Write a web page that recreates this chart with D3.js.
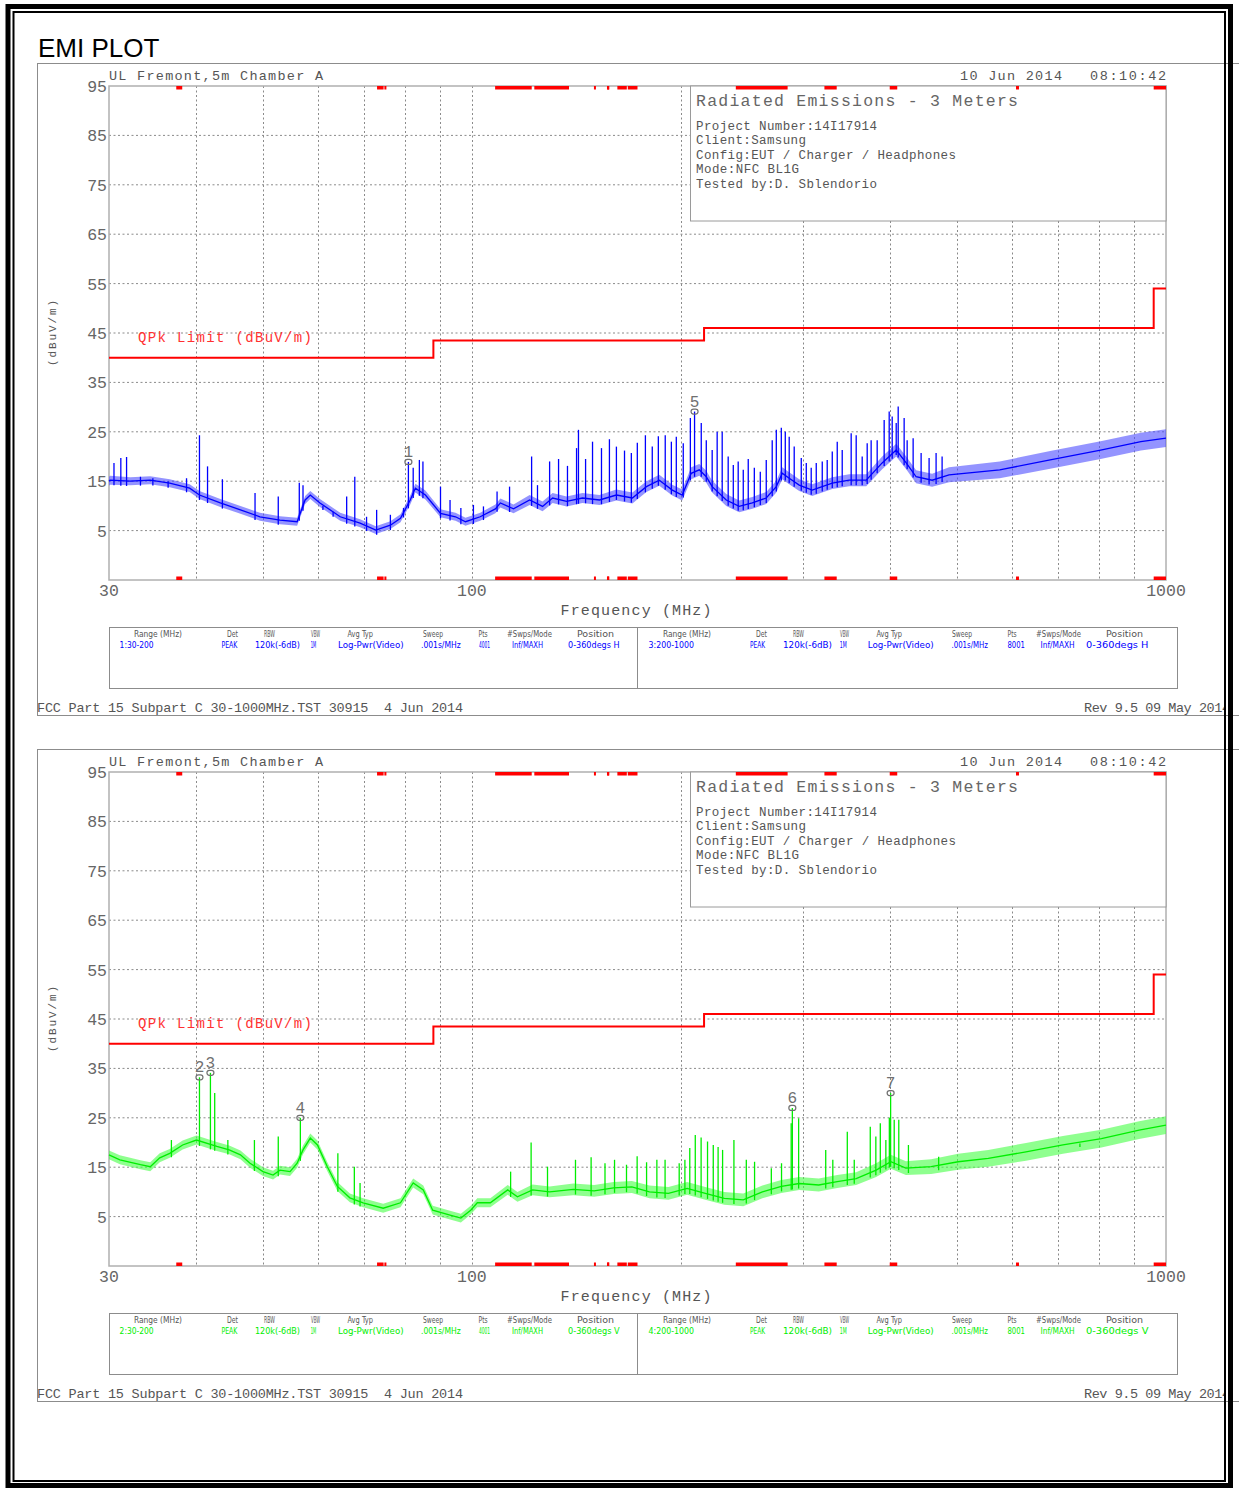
<!DOCTYPE html>
<html><head><meta charset="utf-8">
<script src="https://cdn.jsdelivr.net/npm/d3@7"></script>
<style>body{margin:0;background:#fff}svg{display:block}text{white-space:pre}</style>
</head><body>
<svg id="c" width="1239" height="1488"></svg>
<script>
// ---------------- DATA ----------------
const yTicks = [95, 85, 75, 65, 55, 45, 35, 25, 15, 5];
const xGridFreqs = [40, 50, 60, 70, 80, 90, 100, 200, 300, 400, 500, 600, 700, 800, 900];
const xTickLabels = [30, 100, 1000];
const limitEdges = [30, 88, 216, 960, 1000];
const limitLevels = [40, 43.5, 46, 54];
const restrictedBands = [[37.5,38.25],[73,74.6],[74.8,75.2],[108,121.94],[123,138],[149.9,150.05],
  [156.52475,156.52525],[156.7,156.9],[162.0125,167.17],[167.72,173.2],[240,285],[322,335.4],
  [399.9,410],[608,614],[960,1000]];

// horizontal polarisation (blue) trace: [MHz, dBuV/m, spread]
const hTrace = [[30,15.0,0.9],[30.1,15.2,0.9],[32.2,15.0,0.8],[34.4,15.2,0.8],[36.7,14.6,0.8],[39.2,13.6,0.8],
  [40.5,12.2,0.8],[43.4,10.6,0.8],[46.4,9.2,0.8],[49.5,7.8,0.8],[52.9,7.1,0.8],[56,6.8,0.8],[57.5,11.2,0.8],
  [58.5,12.2,0.8],[60.4,10.6,0.8],[64.6,7.8,0.8],[69,6.5,0.8],[72.7,5.1,0.8],[76.3,6.1,0.8],[78.9,7.5,0.8],
  [81.5,11.2,0.9],[82.9,13.6,0.9],[85.7,12.2,0.9],[90.1,8.5,0.8],[94.7,7.8,0.8],[97.9,6.8,0.8],[102.8,7.8,0.8],
  [108.1,9.4,0.9],[109.9,10.6,0.9],[114.8,9.4,0.9],[121.1,11.2,1],[126.4,9.9,1],[130.7,11.6,1],
  [136.9,10.9,1],[144.3,11.6,1],[152.7,11.2,1],[161.5,12.2,1.1],[170.3,11.6,1.1],[178.4,13.9,1.1],
  [186.2,15.2,1.1],[194.4,13.2,1.1],[200.9,12.2,1.1],[207,16.6,1.2],[212.6,17.3,1.2],[217.6,15.9,1.2],
  [221.9,13.9,1.2],[232.5,11.2,1.2],[242.7,9.9,1.2],[253.5,10.6,1.2],[265.5,11.6,1.2],[274.5,13.9,1.2],
  [280,16.6,1.2],[286.5,15.6,1.2],[296.2,14.2,1.2],[309.2,13.2,1.2],[330.5,14.6,1.2],[349.6,15.2,1.2],
  [369.9,15.2,1.2],[390,18.7,1.3],[408.6,21.3,1.3],[422.4,18.7,1.3],[436.5,15.9,1.3],[460.3,15.2,1.3],
  [486.9,16.3,1.5],[576,17.3,1.7],[681,19.3,1.8],[805,21.3,1.8],[920,23.0,1.8],[1000,23.7,1.8]];
const hSpikes = [[30.5,18.7],[31.2,19.7],[31.8,19.9],[33.3,15.9],[34.7,15.6],[36.5,15],[38.8,15.6],[40.5,24.3],[41.6,18],[43.7,15.4],
  [48.7,12.6],[52.6,11.9],[56.4,14.7],[57.1,14.2],[61.0,10],[63.1,8.8],[66.0,11.9],[67.8,15.9],[70.5,7.8],[72.9,9.2],
  [76.3,8.2],[79.7,9.6],[81.0,18.9],[82.3,17.7],[84.0,19.3],[85.0,19],[90.1,13.9],[93.0,11.2],[96.4,9.6],[100.5,10.2],
  [103.9,9.9],[108.7,12.9],[113.3,13.9],[121.9,20],[124.3,14.2],
  [129.4,19],[133.3,19.5],[137.3,18.1],[141.5,21.7],[142.4,25.4],[145.8,19.5],[149.2,23],[153.7,21.7],
  [157.8,23.5],[161.5,22],[165.9,21.2],[169.7,20.7],[173.1,22.8],[177.8,24.3],[181.9,22],[185.6,24.1],
  [189.9,24.3],[193.8,23],[197.0,24],[201.6,22.7],[206.4,27.8],[209.3,29.1],[214.0,26.8],[217.6,23.3],
  [221.9,21.3],[225.6,25],[229.4,25],[234.0,20],[238.0,18.3],[241.9,19],[246.0,17.3],[250.1,19.5],
  [255.2,17.7],[260.3,16.9],[265.5,19.3],[270.8,23.3],[274.5,25.4],[279.1,25.8],[282.8,25],[286.5,24],
  [291.3,22],[298.2,19.7],[303.2,18.7],[308.2,17.7],[313.4,18.7],[319.7,19],[325.0,19.3],[330.5,21],
  [336.0,23],[341.6,21.3],[351.9,24.7],[357.8,24.3],[365.0,20],[371.1,22.7],[376.0,23.3],[383.6,23.3],
  [392.6,27.4],[399.2,29.1],[403.2,28.1],[408.6,26.8],[411.3,30.1],[419.5,27.8],[423.7,23.3],[432.2,23.7],
  [443.8,20.7],[455.7,19.7],[466.4,20.7],[475.8,20]];
const hMarkers = [[1, 81.0, 18.9], [5, 209.3, 29.1]];

// vertical polarisation (green) trace: [MHz, dBuV/m, spread]
const vTrace = [[30,17.5,0.9],[31.1,16.5,0.9],[33.3,15.5,0.9],[34.4,15.1,0.9],[35.5,16.9,0.9],[36.7,17.8,0.9],
  [38.3,19.5,0.9],[40.1,20.5,0.9],[42.9,19.2,0.9],[44.7,18.5,0.9],[46.4,17.5,0.9],[47.9,15.8,0.9],[50,14.1,0.9],
  [51.7,13.4,0.9],[52.9,14.4,0.9],[54.7,14.1,0.9],[56,15.8,0.9],[57.1,18.5,0.9],[58.5,20.9,0.9],[59.9,19.5,0.9],
  [61.9,15.1,0.9],[64,11.1,0.9],[66.7,8.8,0.9],[69.7,7.8,0.9],[74.5,6.7,0.9],[78.9,7.8,0.9],[82.3,11.8,0.9],
  [85.1,10.4,0.9],[87.8,6.3,0.9],[93,5.3,0.9],[96.4,4.7,0.9],[99.6,6.3,0.9],[101.8,7.8,0.9],[106.3,7.8,0.9],
  [112.6,10.4,1],[116.3,9.0,1],[122.3,10.4,1.1],[129.4,10.0,1.1],[140,10.5,1.2],[150,10.2,1.2],
  [160,10.8,1.2],[170,11.0,1.2],[180.2,10.0,1.3],[191.9,9.7,1.3],[204.2,10.7,1.3],[216.9,9.7,1.3],
  [231,8.7,1.3],[246,8.4,1.3],[262.1,10,1.3],[279.1,11.1,1.3],[296.2,11.7,1.3],[316,11.4,1.3],
  [336,12.1,1.3],[357.8,12.7,1.3],[382.3,14.4,1.4],[401.4,16.1,1.4],[421.9,14.8,1.4],[458.8,15.1,1.5],
  [501.8,16.1,1.6],[554.5,16.8,1.7],[628.5,18.1,1.8],[710.4,19.5,1.8],[807.2,20.8,1.8],[914.7,22.5,1.8],
  [1000,23.5,1.8]];
const vSpikes = [[36.9,20.5],[40.5,33.2],[42.0,34.1],[42.6,30],[44.5,20.5],[48.6,20.5],[52.6,21.2],
  [56.6,25.0],[64.1,17.8],[67.7,15.1],[69.0,11.8],[113.7,14.1],[121.7,20],[128.5,15.1],[141,16.5],[148.5,17],
  [155.5,15.8],[160.5,16.5],[167,15.5],[173,17.2],[178.5,16],[184.7,16.5],
  [189.8,16.5],[198.9,15.8],[202.7,16.5],[206.0,18.9],[209.8,21.5],[213.9,21.0],[218.5,20.2],[222.7,19.5],
  [226.3,19.1],[229.7,18.5],[238.5,20.5],[248.5,16.5],[255.4,16.1],[270.0,14.8],[279.3,15.8],[288.4,23.9],
  [289.5,27.0],[295.6,24.9],[323.4,18.5],[331.1,16.5],[347.4,22.2],[355.5,16.5],[374.9,23.2],[381.9,21.2],
  [387.6,23.9],[394.8,20.5],[399.4,25],[401.1,30.0],[405.9,24.6],[412.1,24.6],[425.5,19.5],[470.4,17.1],
  [751.6,19.8]];
const vMarkers = [[2, 40.5, 33.2], [3, 42.0, 34.1], [4, 56.6, 25.0], [6, 289.5, 27.0], [7, 401.1, 30.0]];

const tableHeaders = ["Range (MHz)","Det","RBW","VBW","Avg Typ","Sweep","Pts","#Swps/Mode","Position"];
const tableRowsTop = [["1:30-200","PEAK","120k(-6dB)","1M","Log-Pwr(Video)",".001s/MHz","4001","Inf/MAXH","0-360degs H"],
                      ["3:200-1000","PEAK","120k(-6dB)","1M","Log-Pwr(Video)",".001s/MHz","8001","Inf/MAXH","0-360degs H"]];
const tableRowsBottom = [["2:30-200","PEAK","120k(-6dB)","1M","Log-Pwr(Video)",".001s/MHz","4001","Inf/MAXH","0-360degs V"],
                         ["4:200-1000","PEAK","120k(-6dB)","1M","Log-Pwr(Video)",".001s/MHz","8001","Inf/MAXH","0-360degs V"]];
const infoTitle = "Radiated Emissions - 3 Meters";
const infoLines = ["Project Number:14I17914","Client:Samsung","Config:EUT / Charger / Headphones","Mode:NFC BL1G","Tested by:D. Sblendorio"];

// ---------------- DRAW ----------------
const svg = d3.select("#c");
const MONO = "'Liberation Mono','DejaVu Sans Mono',monospace";
const NARROW = "'Liberation Sans Narrow','DejaVu Sans Condensed','Liberation Sans',sans-serif";
const GRAY = "#555";

svg.append("defs").append("clipPath").attr("id", "pageclip")
  .append("rect").attr("x", 0).attr("y", 0).attr("width", 1225).attr("height", 1488);

svg.append("text").attr("x", 38).attr("y", 57).attr("font-family", "'Liberation Sans',Arial,sans-serif")
  .attr("font-size", 26).attr("fill", "#000").text("EMI PLOT");

function txt(g, x, y, s, size, len, opts = {}) {
  const t = g.append("text").attr("x", x).attr("y", y).attr("font-family", opts.family || MONO)
    .attr("font-size", size).attr("fill", opts.fill || GRAY).text(s);
  if (opts.anchor) t.attr("text-anchor", opts.anchor);
  if (len) t.attr("textLength", len).attr("lengthAdjust", opts.adjust || "spacing");
  return t;
}

function drawPanel(oy, trace, spikes, markers, color, bandColor, rows) {
  const g = svg.append("g").attr("transform", `translate(0,${oy})`);
  const X0 = 109, X1 = 1166, YT = 86, YB = 580;
  const x = d3.scaleLog().domain([30, 1000]).range([X0, X1]);
  const y = d3.scaleLinear().domain([-5, 95]).range([YB, YT]);

  // panel frame
  g.append("rect").attr("x", 37.5).attr("y", 63.5).attr("width", 1230).attr("height", 652)
    .attr("fill", "none").attr("stroke", "#8c8c8c").attr("stroke-width", 1);

  // grid
  g.selectAll(".hg").data(yTicks.slice(1)).join("line")
    .attr("x1", X0).attr("x2", X1).attr("y1", d => y(d)).attr("y2", d => y(d))
    .attr("stroke", "#8a8a8a").attr("stroke-width", 1).attr("stroke-dasharray", "2,2.5");
  g.selectAll(".vg").data(xGridFreqs).join("line")
    .attr("x1", d => Math.round(x(d)) + 0.5).attr("x2", d => Math.round(x(d)) + 0.5).attr("y1", YT).attr("y2", YB)
    .attr("stroke", "#8a8a8a").attr("stroke-width", 1).attr("stroke-dasharray", "2,2.5");

  // plot border
  g.append("rect").attr("x", X0).attr("y", YT).attr("width", X1 - X0).attr("height", YB - YT)
    .attr("fill", "none").attr("stroke", "#b0b0b0").attr("stroke-width", 1.5);

  // info box
  g.append("rect").attr("x", 690.5).attr("y", YT).attr("width", X1 - 690.5).attr("height", 135)
    .attr("fill", "#fff").attr("stroke", "#9a9a9a").attr("stroke-width", 1);
  txt(g, 696, 106, infoTitle, 16.5, 322, { fill: "#666" });
  infoLines.forEach((s, i) => txt(g, 696, 129.5 + i * 14.5, s, 12.5, [181, 110, 260, 103, 181][i]));

  // limit line
  const limPts = [];
  limitLevels.forEach((v, i) => { limPts.push([limitEdges[i], v]); limPts.push([limitEdges[i + 1], v]); });
  g.append("path").attr("d", d3.line().x(d => x(d[0])).y(d => y(d[1]))(limPts))
    .attr("fill", "none").attr("stroke", "#ff0000").attr("stroke-width", 2);
  txt(g, 138, 341.5, "QPk Limit (dBuV/m)", 14, 174, { fill: "#ff3030" });

  // trace band + line
  const area = d3.area().x(d => x(d[0])).y0(d => y(d[1] - d[2])).y1(d => y(d[1] + d[2]));
  g.append("path").attr("d", area(trace)).attr("fill", bandColor).attr("opacity", 0.6);
  g.append("path").attr("d", d3.line().x(d => x(d[0])).y(d => y(d[1]))(trace))
    .attr("fill", "none").attr("stroke", color).attr("stroke-width", 1.3);

  // spikes from the trace to their peak
  const bis = d3.bisector(d => d[0]).left;
  const baseAt = f => {
    const i = Math.max(1, Math.min(trace.length - 1, bis(trace, f)));
    const a = trace[i - 1], b = trace[i];
    const t = (Math.log(f) - Math.log(a[0])) / (Math.log(b[0]) - Math.log(a[0]));
    return a[1] + t * (b[1] - a[1]);
  };
  g.selectAll(".sp").data(spikes).join("line")
    .attr("x1", d => x(d[0])).attr("x2", d => x(d[0]))
    .attr("y1", d => y(baseAt(d[0]) - 1)).attr("y2", d => y(d[1]))
    .attr("stroke", color).attr("stroke-width", 1.3);

  // restricted band markers
  [YT, YB - 3.5].forEach(yy => {
    g.selectAll(null).data(restrictedBands).join("rect")
      .attr("x", d => x(d[0])).attr("y", yy)
      .attr("width", d => Math.max(2, x(Math.min(d[1], 1000)) - x(d[0]))).attr("height", 3.5)
      .attr("fill", "#ff0000");
  });

  // markers
  markers.forEach(m => {
    const mx = x(m[1]), my = y(m[2]);
    g.append("rect").attr("x", mx - 3.5).attr("y", my - 2.5).attr("width", 7).attr("height", 5)
      .attr("rx", 2.5).attr("fill", "none").attr("stroke", "#707070").attr("stroke-width", 1.2);
    txt(g, mx, my - 5, String(m[0]), 16, null, { anchor: "middle", fill: "#707070" });
  });

  // axis labels
  yTicks.forEach(v => txt(g, 107, y(v) + 6, String(v), 16.5, null, { anchor: "end", fill: "#666" }));
  xTickLabels.forEach(v => txt(g, x(v), 596, String(v), 16.5, null, { anchor: "middle", fill: "#666" }));
  txt(g, 636, 615, "Frequency (MHz)", 15, 151, { anchor: "middle" });
  txt(g, 0, 0, "(dBuV/m)", 11, 66, { anchor: "middle" }).attr("transform", "translate(56,333) rotate(-90)");

  // header texts
  txt(g, 109, 80, "UL Fremont,5m Chamber A", 13.5, 214);
  txt(g, 960, 80, "10 Jun 2014", 13.5, 102);
  txt(g, 1090, 80, "08:10:42", 13.5, 76);

  // settings table
  g.append("rect").attr("x", 109.5).attr("y", 627.5).attr("width", 1068).attr("height", 61)
    .attr("fill", "none").attr("stroke", "#8c8c8c").attr("stroke-width", 1);
  g.append("line").attr("x1", 637.5).attr("x2", 637.5).attr("y1", 627.5).attr("y2", 688.5)
    .attr("stroke", "#8c8c8c").attr("stroke-width", 1);
  const hdrX = [[134,48],[227,11],[264,11],[311,9],[347.5,25.5],[423,20],[478.6,9],[507,45],[577,37]];
  const valX = [[[119.6,34],[221.4,16],[255,45],[310.7,5.5],[338,65.6],[421,39.7],[479,11],[512,31],[568,51.6]],
                [[648.6,45.4],[750,15],[783,49],[839.7,7],[867.7,66],[951.5,36.5],[1007.5,17.5],[1040.5,34.2],[1086,62.4]]];
  [0, 1].forEach(side => {
    const off = side === 0 ? 0 : 529;
    tableHeaders.forEach((h, i) => txt(g, hdrX[i][0] + off, 637, h, 9, hdrX[i][1], { family: NARROW, fill: "#555", adjust: "spacingAndGlyphs" }));
    rows[side].forEach((v, i) => txt(g, valX[side][i][0], 647.5, v, 9, valX[side][i][1], { family: NARROW, fill: color, adjust: "spacingAndGlyphs" }));
  });

  // footer
  txt(g, 37, 712, "FCC Part 15 Subpart C 30-1000MHz.TST 30915  4 Jun 2014", 13.5, 426);
  txt(g, 1084, 712, "Rev 9.5 09 May 2014", 13.5, 146).attr("clip-path", "url(#pageclip)");
}

drawPanel(0, hTrace, hSpikes, hMarkers, "#0000ff", "#4d4dff", tableRowsTop);
drawPanel(686, vTrace, vSpikes, vMarkers, "#00ee00", "#44ff44", tableRowsBottom);

// outer page frame
svg.append("rect").attr("x", 8).attr("y", 6.5).attr("width", 1222.5).attr("height", 1479)
  .attr("fill", "none").attr("stroke", "#000").attr("stroke-width", 5);
svg.append("rect").attr("x", 13.5).attr("y", 12).attr("width", 1211.5).attr("height", 1469)
  .attr("fill", "none").attr("stroke", "#000").attr("stroke-width", 2);
</script></body></html>
